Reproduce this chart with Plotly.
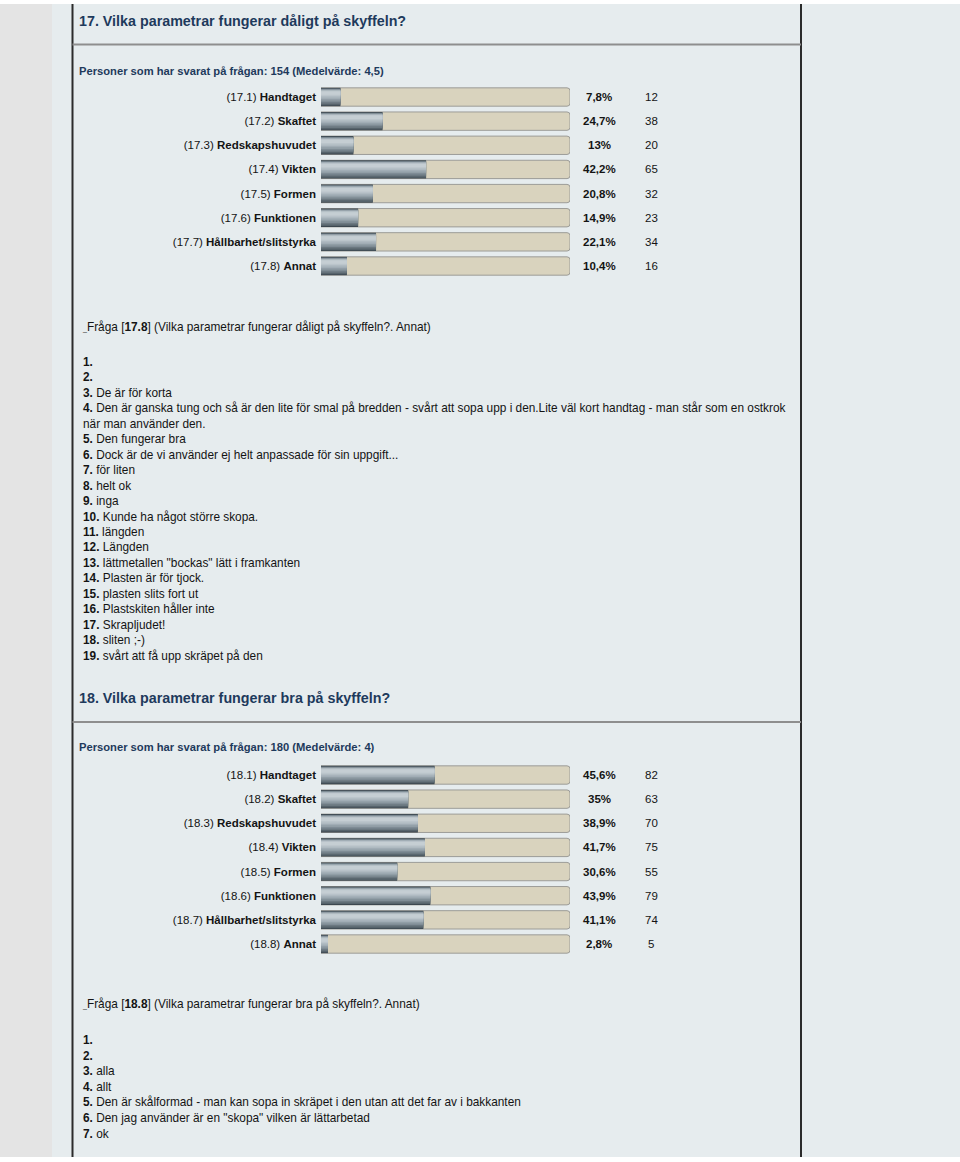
import plotly.graph_objects as go

W, H = 960, 1162

# ---------------- data ----------------
title17 = "17. Vilka parametrar fungerar dåligt på skyffeln?"
resp17 = "Personer som har svarat på frågan: 154 (Medelvärde: 4,5)"
codes17 = ["17.1", "17.2", "17.3", "17.4", "17.5", "17.6", "17.7", "17.8"]
names17 = ["Handtaget", "Skaftet", "Redskapshuvudet", "Vikten", "Formen",
           "Funktionen", "Hållbarhet/slitstyrka", "Annat"]
pct17 = [7.8, 24.7, 13, 42.2, 20.8, 14.9, 22.1, 10.4]
cnt17 = [12, 38, 20, 65, 32, 23, 34, 16]
fraga17 = "17.8"
fraga17_text = "(Vilka parametrar fungerar dåligt på skyffeln?. Annat)"
answers17 = [
    "", "", "De är för korta",
    "Den är ganska tung och så är den lite för smal på bredden - svårt att sopa upp i den.Lite väl kort handtag - man står som en ostkrok\nnär man använder den.",
    "Den fungerar bra",
    "Dock är de vi använder ej helt anpassade för sin uppgift...",
    "för liten", "helt ok", "inga", "Kunde ha något större skopa.",
    "längden", "Längden", "lättmetallen \"bockas\" lätt i framkanten",
    "Plasten är för tjock.", "plasten slits fort ut", "Plastskiten håller inte",
    "Skrapljudet!", "sliten ;-)", "svårt att få upp skräpet på den",
]

title18 = "18. Vilka parametrar fungerar bra på skyffeln?"
resp18 = "Personer som har svarat på frågan: 180 (Medelvärde: 4)"
codes18 = ["18.1", "18.2", "18.3", "18.4", "18.5", "18.6", "18.7", "18.8"]
names18 = names17
pct18 = [45.6, 35, 38.9, 41.7, 30.6, 43.9, 41.1, 2.8]
cnt18 = [82, 63, 70, 75, 55, 79, 74, 5]
fraga18 = "18.8"
fraga18_text = "(Vilka parametrar fungerar bra på skyffeln?. Annat)"
answers18 = [
    "", "", "alla", "allt",
    "Den är skålformad - man kan sopa in skräpet i den utan att det far av i bakkanten",
    "Den jag använder är en \"skopa\" vilken är lättarbetad",
    "ok",
]

# ---------------- helpers ----------------
FONT = "Liberation Sans, Arial, Helvetica, sans-serif"
NAVY = "#1e3a5c"
TXT = "#141414"
BODY = 11.85


def X(px):
    return px / W


def Y(py):
    return 1 - py / H


def fmt_pct(v):
    return f"{v:g}".replace(".", ",") + "%"


fig = go.Figure()

# bar layers: (offset, width, colour) giving a metallic vertical gradient
layers = [
    (-0.38, 0.76, "#3c474f"),
    (-0.355, 0.70, "#56636b"),
    (-0.34, 0.62, "#6b7880"),
    (-0.325, 0.54, "#7f8c95"),
    (-0.31, 0.46, "#919ea6"),
    (-0.295, 0.38, "#a1adb5"),
    (-0.275, 0.30, "#afbac1"),
    (-0.255, 0.22, "#bbc5cb"),
    (-0.23, 0.14, "#c5ced3"),
]


def add_section(pcts, axis_suffix):
    xa = "x" + axis_suffix
    ya = "y" + axis_suffix
    rows = list(range(len(pcts)))
    fig.add_trace(go.Bar(
        x=[100] * len(pcts), y=rows, orientation="h", width=0.76,
        marker=dict(color="#d9d3be", line=dict(color="#9c9c98", width=1),
                    cornerradius=3),
        xaxis=xa, yaxis=ya, hoverinfo="skip", showlegend=False))
    for k, (off, wid, col) in enumerate(layers):
        fig.add_trace(go.Bar(
            x=pcts, y=rows, orientation="h", width=wid, offset=off,
            marker=dict(color=col, line=dict(width=0),
                        cornerradius=2 if k == 0 else 0),
            xaxis=xa, yaxis=ya, hoverinfo="skip", showlegend=False))


add_section(pct17, "")
add_section(pct18, "2")

row_step = (266 - 97) / 7
dom_x = [X(321), X(570)]


def ydom(first_center, n=8):
    top = first_center - 0.5 * row_step
    bot = first_center + (n - 0.5) * row_step
    return [Y(bot), Y(top)]


def tick_labels(codes, names):
    return [f"({c}) <b>{n}</b>" for c, n in zip(codes, names)]


axis_common = dict(showgrid=False, zeroline=False, showline=False)
fig.update_layout(
    xaxis=dict(domain=dom_x, range=[0, 100], visible=False, anchor="y", **axis_common),
    xaxis2=dict(domain=dom_x, range=[0, 100], visible=False, anchor="y2", **axis_common),
    yaxis=dict(domain=ydom(97), range=[7.5, -0.5], anchor="x",
               tickvals=list(range(8)), ticktext=tick_labels(codes17, names17),
               ticks="", ticklabelstandoff=4,
               tickfont=dict(family=FONT, size=11.5, color=TXT), **axis_common),
    yaxis2=dict(domain=ydom(775), range=[7.5, -0.5], anchor="x2",
                tickvals=list(range(8)), ticktext=tick_labels(codes18, names18),
                ticks="", ticklabelstandoff=4,
                tickfont=dict(family=FONT, size=11.5, color=TXT), **axis_common),
    barmode="overlay",
)

annotations = []


def ann(text, x, y, size=11, color=TXT, xanchor="left", xref="paper", yref="paper"):
    annotations.append(dict(text=text, x=x, y=y, xref=xref, yref=yref,
                            xanchor=xanchor, yanchor="middle", showarrow=False,
                            font=dict(family=FONT, size=size, color=color)))


def section_text(title, title_y, resp, resp_y, pcts, cnts, yref,
                 fraga, fraga_text, fraga_y, answers, ans_y0, ans_step):
    ann(f"<b>{title}</b>", X(77), Y(title_y), size=14.3, color=NAVY)
    ann(f"<b>{resp}</b>", X(77), Y(resp_y), size=11.2, color=NAVY)
    for i, (p, c) in enumerate(zip(pcts, cnts)):
        ann(f"<b>{fmt_pct(p)}</b>", X(599), i, size=11.5, xanchor="center", yref=yref)
        ann(str(c), X(651), i, size=11.5, xanchor="center", yref=yref)
    ann(f"<span style='font-size:7px'>_</span>Fråga [<b>{fraga}</b>] {fraga_text}",
        X(80), Y(fraga_y), size=BODY)
    line = 0
    for k, a in enumerate(answers, start=1):
        parts = a.split("\n")
        for j, part in enumerate(parts):
            txt = f"<b>{k}.</b> {part}" if j == 0 else part
            ann(txt, X(81), Y(ans_y0 + line * ans_step), size=BODY)
            line += 1


section_text(title17, 21, resp17, 71, pct17, cnt17, "y",
             fraga17, fraga17_text, 327, answers17, 362, 15.45)
section_text(title18, 698, resp18, 747, pct18, cnt18, "y2",
             fraga18, fraga18_text, 1004, answers18, 1040, 15.6)

shapes = [
    dict(type="rect", xref="paper", yref="paper", x0=0, x1=1, y0=Y(1157), y1=Y(4),
         fillcolor="#e6ecee", line=dict(width=0), layer="below"),
    dict(type="rect", xref="paper", yref="paper", x0=0, x1=X(52), y0=Y(1157), y1=Y(4),
         fillcolor="#e4e4e4", line=dict(width=0), layer="below"),
    dict(type="line", xref="paper", yref="paper", x0=X(72.5), x1=X(72.5), y0=Y(1157), y1=Y(4),
         line=dict(color="#2b2b2b", width=2), layer="below"),
    dict(type="line", xref="paper", yref="paper", x0=X(801), x1=X(801), y0=Y(1157), y1=Y(4),
         line=dict(color="#2b2b2b", width=2), layer="below"),
    dict(type="line", xref="paper", yref="paper", x0=X(72.5), x1=X(801), y0=Y(44.5), y1=Y(44.5),
         line=dict(color="#8e8e8e", width=2), layer="below"),
    dict(type="line", xref="paper", yref="paper", x0=X(72.5), x1=X(801), y0=Y(722), y1=Y(722),
         line=dict(color="#8e8e8e", width=2), layer="below"),
]

fig.update_layout(
    width=W, height=H, margin=dict(l=0, r=0, t=0, b=0),
    paper_bgcolor="#ffffff", plot_bgcolor="rgba(0,0,0,0)",
    annotations=annotations, shapes=shapes, showlegend=False,
    font=dict(family=FONT, color=TXT),
)

fig.write_html(
    "out.html",
    config={"displayModeBar": False},
    post_script="document.body.style.margin='0';document.body.style.padding='0';"
                "document.documentElement.style.overflow='hidden';",
)
